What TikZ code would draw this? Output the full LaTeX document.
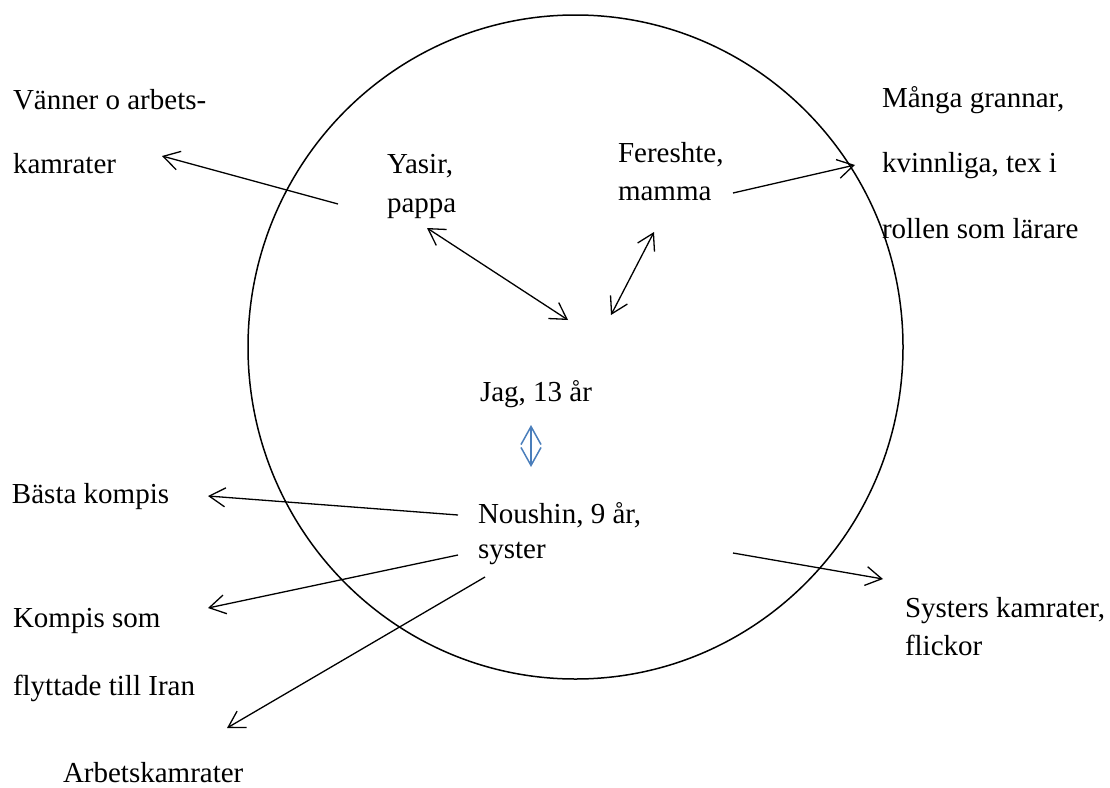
\documentclass[tikz,border=0pt]{standalone}
\usepackage{fontspec}
\setmainfont{Liberation Serif}
\usetikzlibrary{arrows.meta}
\definecolor{wordblue}{RGB}{74,126,187}
\begin{document}
\begin{tikzpicture}[x=1pt,y=-1pt,
  lbl/.style={anchor=base west,inner sep=0pt,outer sep=0pt,font=\fontsize{29}{34}\selectfont},
  conn/.style={line width=1.3pt,-{Straight Barb[length=16pt,width=19pt]}},
  dconn/.style={line width=1.3pt,{Straight Barb[length=16pt,width=19pt]}-{Straight Barb[length=16pt,width=19pt]}},
  bconn/.style={line width=1.5pt,draw=wordblue,{Straight Barb[length=18pt,width=20pt]}-{Straight Barb[length=18pt,width=20pt]}},
  ring/.style={line width=1.5pt}]
\useasboundingbox (0,0) rectangle (1110,787);
\draw[ring] (575.5,347) ellipse [x radius=327.5, y radius=332];

\node[lbl] (van1) at (13,109) {Vänner o arbets-};
\node[lbl] (van2) at (13,173) {kamrater};
\node[lbl] (yas1) at (387,173) {Yasir,};
\node[lbl] (yas2) at (387,212) {pappa};
\node[lbl] (fer1) at (618,162) {Fereshte,};
\node[lbl] (fer2) at (618,200) {mamma};
\node[lbl] (gra1) at (882,107) {Många grannar,};
\node[lbl] (gra2) at (882,172) {kvinnliga, tex i};
\node[lbl] (gra3) at (882,238) {rollen som lärare};
\node[lbl] (jag) at (480,401) {Jag, 13 år};
\node[lbl] (nou1) at (478,523) {Noushin, 9 år,};
\node[lbl] (nou2) at (478,558) {syster};
\node[lbl] (bas) at (12,503) {Bästa kompis};
\node[lbl] (kom1) at (13,627) {Kompis som};
\node[lbl] (kom2) at (13,695) {flyttade till Iran};
\node[lbl] (arb) at (63,782) {Arbetskamrater};
\node[lbl] (sys1) at (905,617) {Systers kamrater,};
\node[lbl] (sys2) at (905,655) {flickor};

\coordinate (yasOut) at (338,204);
\coordinate (vanIn) at (162,156);
\coordinate (yasDown) at (427,228);
\coordinate (jagA) at (568,320);
\coordinate (jagB) at (611,315);
\coordinate (ferDown) at (654,232);
\coordinate (ferOut) at (733,193);
\coordinate (graIn) at (855,165);
\coordinate (jagDown) at (531,425);
\coordinate (nouUp) at (531,467);
\coordinate (nouOutA) at (458,515);
\coordinate (basIn) at (208,496);
\coordinate (nouOutB) at (458,555);
\coordinate (komIn) at (208,608);
\coordinate (nouOutC) at (485,577);
\coordinate (arbIn) at (227,728);
\coordinate (nouOutD) at (733,553);
\coordinate (sysIn) at (883,579);

\draw[conn] (yasOut) -- (vanIn);
\draw[dconn] (yasDown) -- (jagA);
\draw[dconn] (jagB) -- (ferDown);
\draw[conn] (ferOut) -- (graIn);
\draw[bconn] (jagDown) -- (nouUp);
\draw[conn] (nouOutA) -- (basIn);
\draw[conn] (nouOutB) -- (komIn);
\draw[conn] (nouOutC) -- (arbIn);
\draw[conn] (nouOutD) -- (sysIn);
\end{tikzpicture}
\end{document}
